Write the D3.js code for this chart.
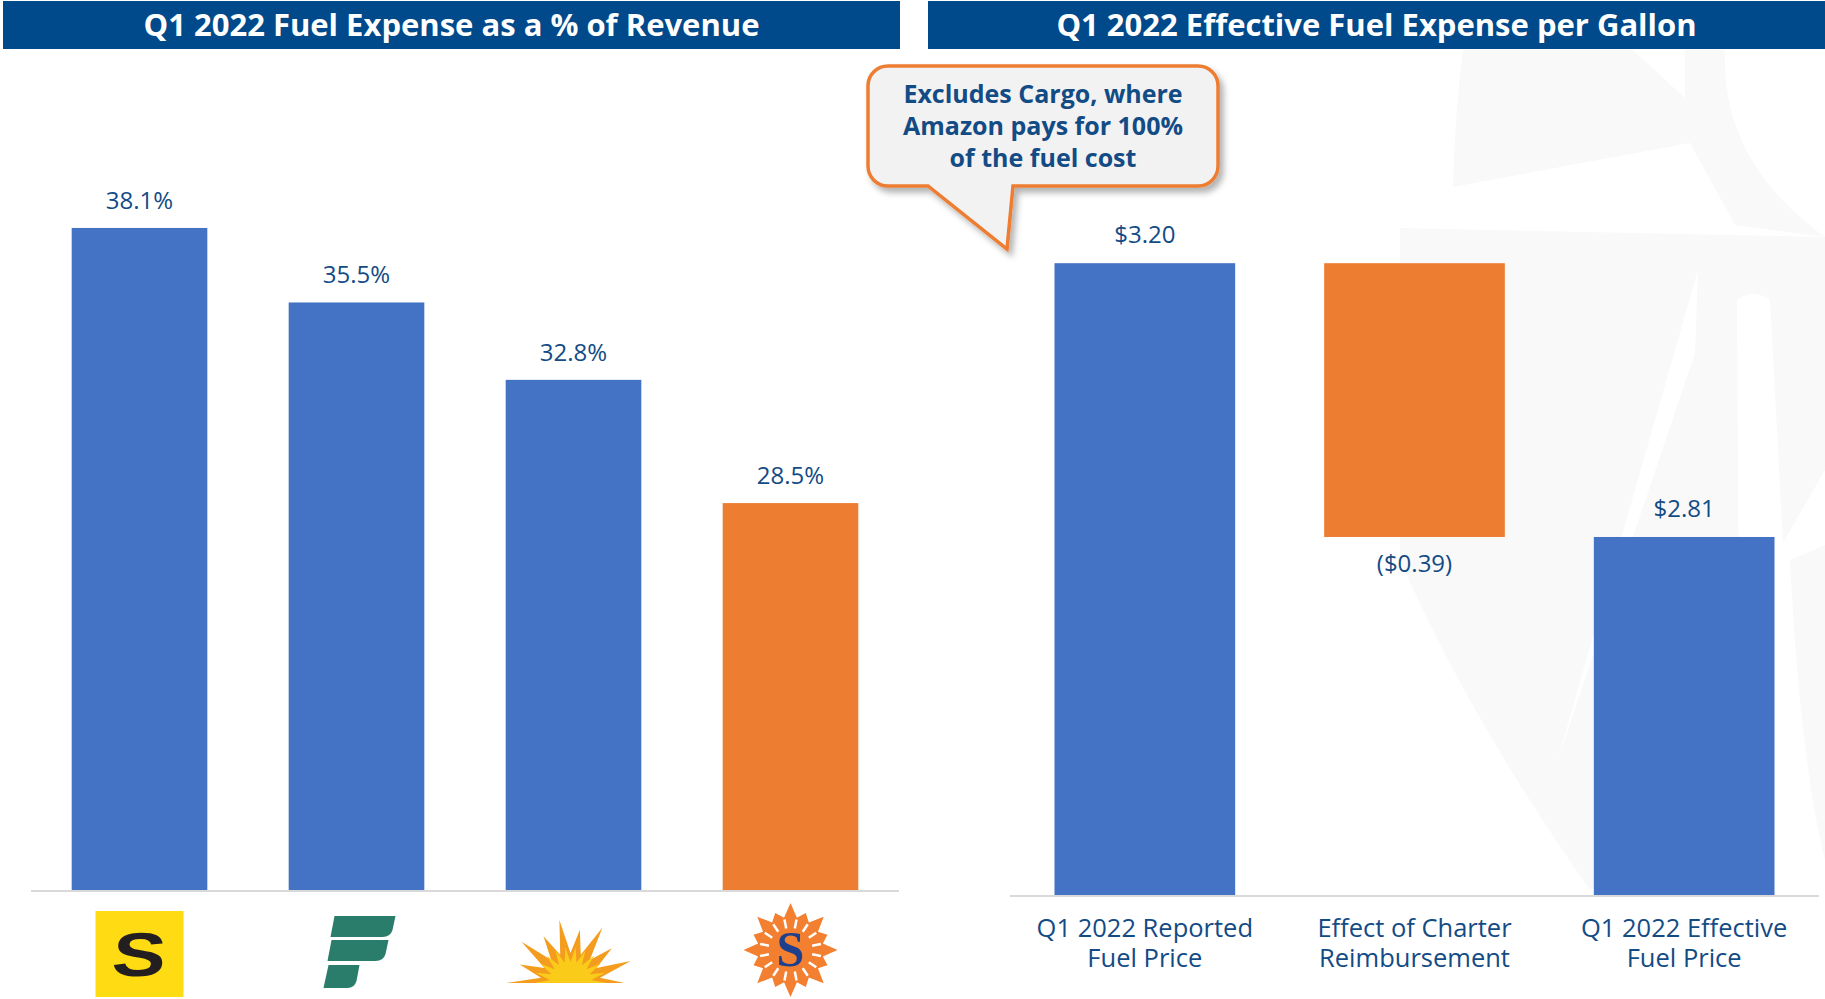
<!DOCTYPE html>
<html>
<head>
<meta charset="utf-8">
<script src="https://cdn.jsdelivr.net/npm/d3@7"></script>
<style>
  body { margin: 0; background: #fff; }
  text { font-family: "Open Sans", "Noto Sans", sans-serif; }
</style>
</head>
<body>
<div id="chart"></div>
<script>
// data
var leftCats = ["Spirit", "Frontier", "Allegiant", "Sun Country"];
var leftVals = [38.1, 35.5, 32.8, 28.5];
var leftHighlight = ["Sun Country"];

var rightCats = ["Q1 2022 Reported Fuel Price", "Effect of Charter Reimbursement", "Q1 2022 Effective Fuel Price"];
var rightLines = [["Q1 2022 Reported", "Fuel Price"], ["Effect of Charter", "Reimbursement"], ["Q1 2022 Effective", "Fuel Price"]];
var rightVals = [3.20, -0.39, 2.81];
var rightKinds = ["total", "delta", "total"];

var titles = ["Q1 2022 Fuel Expense as a % of Revenue", "Q1 2022 Effective Fuel Expense per Gallon"];
var calloutLines = ["Excludes Cargo, where", "Amazon pays for 100%", "of the fuel cost"];

var W = 1825, H = 999;
var blue = "#4472c4", orange = "#ed7d31", navy = "#00498a", textBlue = "#134b85";

var svg = d3.select("#chart").append("svg")
  .attr("width", W).attr("height", H);

var defs = svg.append("defs");
var f = defs.append("filter").attr("id", "shadow").attr("x", "-20%").attr("y", "-20%").attr("width", "140%").attr("height", "150%");
f.append("feDropShadow").attr("dx", 4).attr("dy", 5).attr("stdDeviation", 3)
  .attr("flood-color", "#000").attr("flood-opacity", 0.3);

// faint watermark in the background (right side)
var wm = svg.append("g").attr("fill", "#f9f9f9");
wm.append("path").attr("d", "M1463,50 L1633,50 L1685,98 L1685,50 L1725,50 C1722,130 1760,190 1825,237 L1735,225 L1690,143 L1453,187 Q1455,110 1463,50 Z");
wm.append("path").attr("d", "M1400,228 L1825,237 L1825,470 L1783,543 L1770,300 Q1753,288 1737,300 L1740,820 L1590,890 Q1470,720 1400,560 Z");
wm.append("path").attr("fill", "#fff").attr("d", "M1557,762 L1698,270 L1695,353 Z");
wm.append("path").attr("d", "M1790,560 L1825,545 L1825,860 Q1800,760 1790,560 Z");

// header bars
var heads = [[3, 900], [928, 1825]];
heads.forEach(function(h, i) {
  svg.append("rect").attr("x", h[0]).attr("y", 1).attr("width", h[1] - h[0]).attr("height", 48).attr("fill", navy);
  svg.append("text").attr("x", (h[0] + h[1]) / 2).attr("y", 36)
    .attr("text-anchor", "middle").attr("fill", "#fff")
    .attr("font-size", 31).attr("font-weight", 700)
    .text(titles[i]);
});

// ---------- left chart ----------
var xL = d3.scaleBand().domain(leftCats).range([31, 899]).paddingInner(0.375).paddingOuter(0.1875);
var yL = d3.scaleLinear().domain([15, 40]).range([890, 173.5]);

svg.append("g").selectAll("rect").data(leftCats).join("rect")
  .attr("x", function(d) { return xL(d); })
  .attr("width", xL.bandwidth())
  .attr("y", function(d, i) { return yL(leftVals[i]); })
  .attr("height", function(d, i) { return yL(15) - yL(leftVals[i]); })
  .attr("fill", function(d) { return leftHighlight.indexOf(d) >= 0 ? orange : blue; });

svg.append("g").selectAll("text").data(leftCats).join("text")
  .attr("x", function(d) { return xL(d) + xL.bandwidth() / 2; })
  .attr("y", function(d, i) { return yL(leftVals[i]) - 19; })
  .attr("text-anchor", "middle").attr("font-size", 24).attr("fill", textBlue)
  .text(function(d, i) { return leftVals[i].toFixed(1) + "%"; });

svg.append("g").attr("transform", "translate(0,891)")
  .call(d3.axisBottom(xL).tickSize(0).tickFormat(""))
  .call(function(g) { g.select(".domain").attr("stroke", "#d9d9d9").attr("stroke-width", 2).attr("d", "M31,0H899"); });

// logos under the left bars
var logoG = svg.append("g");
function star(n, r1, r2, a0, a1) {
  var pts = [];
  for (var k = 0; k <= n; k++) {
    var a = a0 + (a1 - a0) * k / n;
    var r = k % 2 === 0 ? r1(k) : r2;
    pts.push([Math.cos(a) * r, Math.sin(a) * r]);
  }
  return pts;
}
var logos = {
  "Spirit": function(g) {
    g.append("rect").attr("x", -44).attr("y", -42).attr("width", 88).attr("height", 86).attr("fill", "#fedb12");
    g.append("text").attr("x", 0).attr("y", 23).attr("text-anchor", "middle")
      .attr("transform", "scale(1.3,1) skewX(-4)")
      .style("font-family", "'Liberation Sans', Arial, sans-serif")
      .attr("font-size", 62).attr("font-weight", 700).attr("fill", "#231f20").text("S");
  },
  "Frontier": function(g) {
    g.attr("fill", "#2b7d6b");
    g.append("path").attr("d", "M-22,-36 H39 L36,-22 Q34,-15 26,-15 H-26 Z");
    g.append("path").attr("d", "M-25,-12 H32 L29,2 Q27,9 19,9 H-29 Z");
    g.append("path").attr("d", "M-28,13 H3 L0,29 Q-2,36 -9,36 H-33 Z");
  },
  "Allegiant": function(g) {
    var outer = star(18, function(k) { return k % 4 === 0 ? 64 : 54; }, 30, Math.PI, 2 * Math.PI);
    g.append("polygon").attr("points", outer.join(" ")).attr("fill", "#f39c1e");
    var inner = star(22, function() { return 36; }, 21, Math.PI, 2 * Math.PI);
    g.append("polygon").attr("points", inner.join(" ")).attr("fill", "#fbcb1a");
  },
  "Sun Country": function(g) {
    var pts = star(32, function(k) { return k % 4 === 0 ? 47 : 40; }, 33, -Math.PI / 2, 1.5 * Math.PI);
    g.append("polygon").attr("points", pts.join(" ")).attr("fill", "#f37f30");
    for (var k = 0; k < 16; k++) {
      var a = k * Math.PI / 8 + Math.PI / 16;
      g.append("line").attr("x1", Math.cos(a) * 22).attr("y1", Math.sin(a) * 22)
        .attr("x2", Math.cos(a) * 31).attr("y2", Math.sin(a) * 31)
        .attr("stroke", "#fff").attr("stroke-width", 2.5);
    }
    g.append("text").attr("x", 0).attr("y", 16).attr("text-anchor", "middle")
      .style("font-family", "'Liberation Serif', serif")
      .attr("font-size", 50).attr("font-weight", 700).attr("fill", "#1e3f8c").text("S");
  }
};
var logoY = { "Spirit": 953, "Frontier": 952, "Allegiant": 983, "Sun Country": 950 };
leftCats.forEach(function(c) {
  var g = logoG.append("g").attr("transform", "translate(" + (xL(c) + xL.bandwidth() / 2 - (c === "Allegiant" ? 3 : 0)) + "," + logoY[c] + ")");
  logos[c](g);
});

// ---------- right chart ----------
var xR = d3.scaleBand().domain(rightCats).range([1010, 1819]).paddingInner(0.33).paddingOuter(0.165);
var yR = d3.scaleLinear().domain([2.3, 3.3]).range([895, 193]);

var run = 0, wf = [];
rightVals.forEach(function(v, i) {
  if (rightKinds[i] === "total") { wf.push({ cat: rightCats[i], y0: 2.3, y1: v, v: v, kind: "total" }); run = v; }
  else { wf.push({ cat: rightCats[i], y0: run, y1: run + v, v: v, kind: "delta" }); run = run + v; }
});

svg.append("g").selectAll("rect").data(wf).join("rect")
  .attr("x", function(d) { return xR(d.cat); })
  .attr("width", xR.bandwidth())
  .attr("y", function(d) { return yR(Math.max(d.y0, d.y1)); })
  .attr("height", function(d) { return Math.abs(yR(d.y0) - yR(d.y1)); })
  .attr("fill", function(d) { return d.kind === "delta" ? orange : blue; });

var money = function(v) { return v < 0 ? "($" + Math.abs(v).toFixed(2) + ")" : "$" + v.toFixed(2); };
svg.append("g").selectAll("text").data(wf).join("text")
  .attr("x", function(d) { return xR(d.cat) + xR.bandwidth() / 2; })
  .attr("y", function(d) { return d.v < 0 ? yR(Math.min(d.y0, d.y1)) + 35 : yR(d.y1) - 20; })
  .attr("text-anchor", "middle").attr("font-size", 24).attr("fill", textBlue)
  .text(function(d) { return money(d.v); });

var axR = svg.append("g").attr("transform", "translate(0,896)")
  .call(d3.axisBottom(xR).tickSize(0).tickFormat(""));
axR.select(".domain").attr("stroke", "#d9d9d9").attr("stroke-width", 2).attr("d", "M1010,0H1819");

svg.append("g").selectAll("text").data(rightCats).join("text")
  .attr("x", function(d) { return xR(d) + xR.bandwidth() / 2; })
  .attr("y", 937)
  .attr("text-anchor", "middle").attr("font-size", 25.5).attr("fill", textBlue)
  .each(function(d, i) {
    var t = d3.select(this);
    rightLines[i].forEach(function(s, j) {
      t.append("tspan").attr("x", xR(d) + xR.bandwidth() / 2).attr("dy", j === 0 ? 0 : 30).text(s);
    });
  });

// callout bubble
var bx0 = 868, bx1 = 1218, by0 = 66, by1 = 186, r = 20;
var p = d3.path();
p.moveTo(bx0 + r, by0);
p.lineTo(bx1 - r, by0);
p.arcTo(bx1, by0, bx1, by0 + r, r);
p.lineTo(bx1, by1 - r);
p.arcTo(bx1, by1, bx1 - r, by1, r);
p.lineTo(1013, by1);
p.lineTo(1007, 249);
p.lineTo(928, by1);
p.lineTo(bx0 + r, by1);
p.arcTo(bx0, by1, bx0, by1 - r, r);
p.lineTo(bx0, by0 + r);
p.arcTo(bx0, by0, bx0 + r, by0, r);
p.closePath();
svg.append("path").attr("d", p.toString())
  .attr("fill", "#f2f2f2").attr("stroke", orange).attr("stroke-width", 3.5)
  .attr("filter", "url(#shadow)");

svg.append("text").attr("x", 1043).attr("y", 103)
  .attr("text-anchor", "middle").attr("font-size", 25).attr("font-weight", 700).attr("fill", textBlue)
  .selectAll("tspan").data(calloutLines).join("tspan")
  .attr("x", 1043).attr("dy", function(d, i) { return i === 0 ? 0 : 32; })
  .text(function(d) { return d; });
</script>
</body>
</html>
